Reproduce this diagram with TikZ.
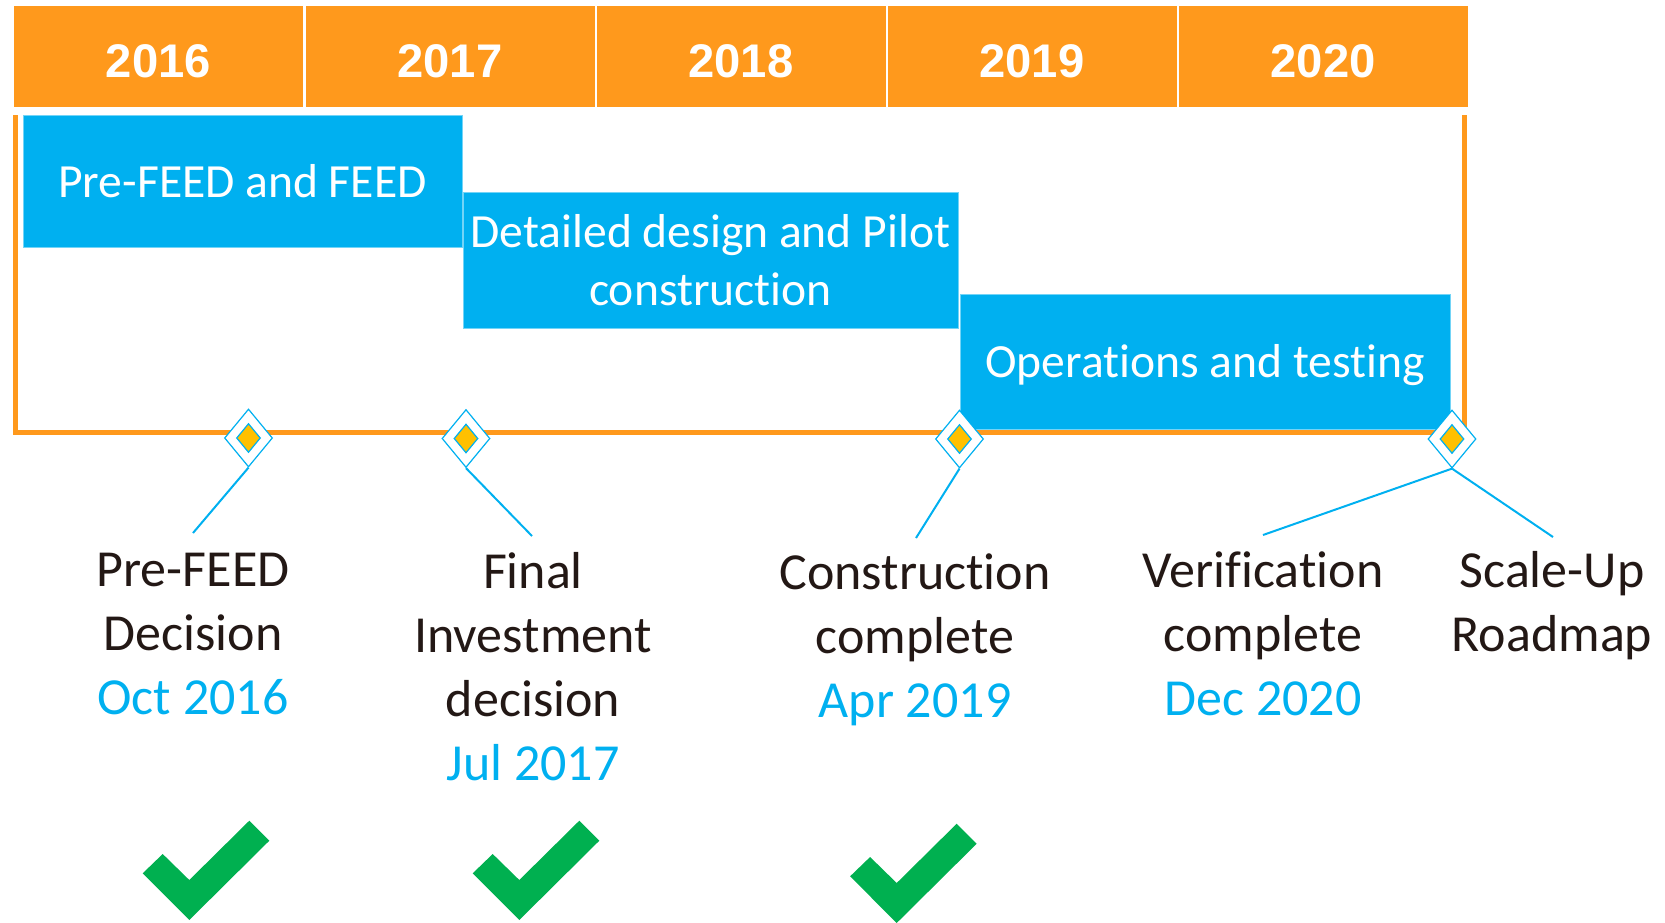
\documentclass[tikz,border=0pt]{standalone}
\usepackage{fontspec}
\setmainfont{Carlito}[RawFeature={-liga;-clig;-calt;-dlig}]
\newfontfamily\headfont{Liberation Sans}
\usepackage{tikz}
\usepackage{xcolor}
\usetikzlibrary{
    shapes,
    calc,
    positioning
}
\definecolor{barorange}{RGB}{255,153,28}
\definecolor{barblue}{RGB}{0,176,240}
\definecolor{stonegold}{RGB}{255,192,0}
\definecolor{tickgreen}{RGB}{0,176,80}
\definecolor{inkdark}{RGB}{35,24,21}
\tikzset{
    yearcell/.style={fill=barorange, inner sep=0pt, minimum width=144.5pt, minimum height=50.5pt, text=white, text height=20.8pt, text depth=0pt, font=\headfont\bfseries\fontsize{23.6}{28}\selectfont},
    phase/.style={fill=barblue, draw=barblue!55!white, line width=0.4pt, inner sep=0pt, text=white, align=center, font=\fontsize{23.8}{29}\selectfont},
    stone/.style={diamond, draw=barblue, fill=white, line width=0.6pt, inner sep=0pt, minimum width=24pt, minimum height=29pt},
    stonecore/.style={diamond, draw=barblue, fill=stonegold, line width=0.6pt, inner sep=0pt, minimum width=12pt, minimum height=14.5pt},
    link/.style={barblue, line width=1pt},
    mtext/.style={align=center, inner sep=0pt, text=inkdark, font=\fontsize{26}{32}\selectfont}
}

\begin{document}
\begin{tikzpicture}[x=0.5pt, y=-0.5pt]
                                \useasboundingbox (0,0) rectangle (1665,922);
                                \node[yearcell] (y16) at (158.5, 56.5) {2016};
                                \node[yearcell] (y17) at (450, 56.5) {2017};
                                \node[yearcell] (y18) at (741, 56.5) {2018};
                                \node[yearcell] (y19) at (1032, 56.5) {2019};
                                \node[yearcell] (y20) at (1323, 56.5) {2020};
                                \draw[barorange, line width=2.5pt] (15, 115) -- (15, 432.5) -- (1464.5, 432.5) -- (1464.5, 115);
                                \node[phase, minimum width=219.5pt, minimum height=66pt] (b1) at (242.5, 181) {Pre-FEED and FEED};
                                \node[phase, minimum width=247.5pt, minimum height=68pt] (b2) at (710.5, 260) {Detailed design and Pilot\\construction};
                                \node[phase, minimum width=245pt, minimum height=67.5pt, text height=20.7pt, text depth=4.5pt] (b3) at (1205, 361.5) {Operations and testing};
                                \node[stone] (d1) at (248.5, 438) {};
                                \node[stone] (d2) at (466, 438.5) {};
                                \node[stone] (d3) at (959.5, 439) {};
                                \node[stone] (d4) at (1452, 439) {};
                                \node[stonecore] (d1c) at (d1) {};
                                \node[stonecore] (d2c) at (d2) {};
                                \node[stonecore] (d3c) at (d3) {};
                                \node[stonecore] (d4c) at (d4) {};
                                \coordinate (e1) at (193, 533);
                                \coordinate (e2) at (532, 536);
                                \coordinate (e3) at (916, 538);
                                \coordinate (e4) at (1263, 535);
                                \coordinate (e5) at (1553, 537);
                                \draw
                                (d1.south) edge[link] (e1)
                                (d2.south) edge[link] (e2)
                                (d3.south) edge[link] (e3)
                                (d4.south) edge[link] (e4)
                                (d4.south) edge[link] (e5);
                                \node[mtext] (l1) at (193, 634) {Pre-FEED\\Decision\\\textcolor{barblue}{Oct 2016}};
                                \node[mtext] (l2) at (533, 667) {Final\\Investment\\decision\\\textcolor{barblue}{Jul 2017}};
                                \node[mtext] (l3) at (915, 640) {Construction\\complete\\\textcolor{barblue}{Apr 2019}};
                                \node[mtext] (l4) at (1263, 634) {Verification\\complete\\\textcolor{barblue}{Dec 2020}};
                                \node[mtext] (l5) at (1552, 606) {Scale-Up\\Roadmap};
                                \fill[tickgreen] (189.3, 920) -- ++(-46.6, -46.7) -- ++(20, -19.3) -- ++(26.6, 26) -- ++(60, -59.3) -- ++(20, 20) -- cycle;
                                \fill[tickgreen] (519.3, 920) -- ++(-46.6, -46.7) -- ++(20, -19.3) -- ++(26.6, 26) -- ++(60, -59.3) -- ++(20, 20) -- cycle;
                                \fill[tickgreen] (896.7, 923) -- ++(-46.6, -46.7) -- ++(20, -19.3) -- ++(26.6, 26) -- ++(60, -59.3) -- ++(20, 20) -- cycle;
                            \end{tikzpicture}
\end{document}
